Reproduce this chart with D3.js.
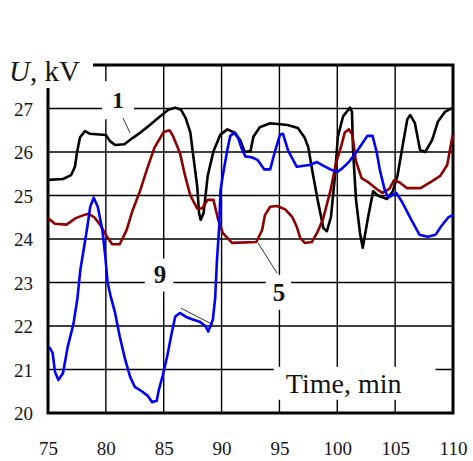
<!DOCTYPE html>
<html>
<head>
<meta charset="utf-8">
<script src="https://cdn.jsdelivr.net/npm/d3@7"></script>
<style>
  html, body { margin: 0; padding: 0; background: #fff; }
  svg { display: block; }
  text { font-family: "Liberation Serif", "Times New Roman", serif; fill: #151515; }
</style>
</head>
<body>
<script>
// Voltage traces U (kV) against time (min) for three feeders: 1, 5 and 9.
const times1 = [75.0, 76.3, 77.0, 77.33, 77.5, 77.77, 78.2, 78.6, 80.0, 80.36, 80.8, 81.6, 82.3, 82.95, 83.8, 84.7, 85.4, 86.0, 86.5, 86.9, 87.3, 87.55, 87.9, 88.05, 88.2, 88.45, 88.8, 89.3, 89.9, 90.5, 91.0, 91.6, 92.0, 92.5, 92.75, 93.3, 94.2, 95.7, 96.6, 97.2, 97.5, 97.85, 98.3, 98.8, 99.1, 99.45, 99.8, 100.05, 100.5, 101.1, 101.27, 101.36, 101.62, 101.96, 102.2, 102.66, 103.1, 103.5, 104.3, 104.8, 105.2, 105.65, 106.05, 106.3, 106.7, 107.15, 107.6, 108.2, 108.7, 109.3, 109.9];
const volts1 = [25.36, 25.38, 25.47, 25.66, 25.98, 26.34, 26.48, 26.42, 26.39, 26.25, 26.16, 26.18, 26.32, 26.44, 26.62, 26.82, 26.97, 27.02, 26.97, 26.78, 26.45, 25.92, 25.2, 24.6, 24.44, 24.6, 25.45, 26.02, 26.4, 26.52, 26.46, 26.28, 26.0, 26.02, 26.35, 26.57, 26.66, 26.62, 26.55, 26.32, 26.1, 25.55, 24.9, 24.25, 24.18, 24.5, 25.45, 26.35, 26.82, 27.02, 26.92, 26.05, 24.9, 24.14, 23.8, 24.5, 25.1, 25.0, 24.92, 25.1, 25.45, 26.15, 26.75, 26.85, 26.67, 26.05, 26.0, 26.28, 26.7, 26.92, 27.01];

const times5 = [75.0, 75.6, 76.6, 77.4, 78.2, 78.5, 79.0, 79.5, 80.1, 80.55, 81.2, 81.8, 82.3, 82.95, 83.55, 84.2, 85.0, 85.5, 85.8, 86.4, 86.85, 87.3, 87.9, 88.3, 88.8, 89.3, 89.7, 90.1, 90.9, 93.0, 93.5, 93.75, 94.2, 94.8, 95.5, 96.1, 96.5, 96.8, 97.2, 97.8, 98.25, 98.75, 99.4, 99.9, 100.3, 100.65, 101.0, 101.3, 101.6, 102.1, 102.7, 103.4, 103.9, 104.5, 104.9, 105.4, 106.0, 107.2, 108.2, 108.9, 109.5, 109.9, 110.0];
const volts5 = [24.48, 24.35, 24.33, 24.48, 24.56, 24.58, 24.5, 24.33, 24.05, 23.88, 23.88, 24.21, 24.65, 25.1, 25.6, 26.1, 26.46, 26.5, 26.37, 25.98, 25.45, 25.0, 24.7, 24.7, 24.9, 24.9, 24.45, 24.14, 23.91, 23.93, 24.2, 24.55, 24.74, 24.76, 24.68, 24.51, 24.28, 24.02, 23.91, 23.93, 24.14, 24.44, 25.1, 25.75, 26.1, 26.45, 26.52, 26.4, 25.8, 25.4, 25.3, 25.15, 25.06, 25.15, 25.35, 25.3, 25.17, 25.17, 25.33, 25.45, 25.7, 26.28, 26.4];

const times9 = [75.1, 75.4, 75.6, 75.9, 76.3, 76.7, 77.2, 77.55, 77.8, 78.05, 78.4, 78.65, 78.95, 79.3, 79.7, 79.95, 80.15, 80.4, 80.8, 81.2, 81.65, 82.1, 82.5, 83.1, 83.6, 84.0, 84.4, 84.55, 84.9, 85.3, 85.7, 86.0, 86.4, 87.0, 87.5, 88.1, 88.6, 88.85, 89.25, 89.45, 89.6, 89.8, 89.9, 90.1, 90.5, 90.75, 91.15, 91.4, 91.75, 92.05, 92.6, 93.1, 93.7, 94.2, 94.6, 95.05, 95.3, 95.75, 96.5, 97.6, 98.25, 98.7, 99.4, 100.0, 100.45, 101.0, 101.6, 102.2, 102.6, 103.05, 103.4, 103.7, 104.1, 104.4, 105.1, 105.6, 106.4, 107.1, 107.8, 108.5, 109.0, 109.6, 110.0];
const volts9 = [21.52, 21.38, 20.95, 20.76, 20.92, 21.52, 22.05, 22.65, 23.3, 23.7, 24.28, 24.74, 24.95, 24.74, 24.2, 23.6, 23.0, 22.7, 22.3, 21.76, 21.25, 20.83, 20.6, 20.5, 20.4, 20.25, 20.28, 20.5, 20.85, 21.3, 21.85, 22.22, 22.3, 22.2, 22.15, 22.1, 22.0, 21.87, 22.15, 22.65, 23.5, 24.3, 25.1, 25.45, 26.05, 26.37, 26.45, 26.35, 26.07, 25.9, 25.88, 25.82, 25.6, 25.6, 26.0, 26.4, 26.42, 26.03, 25.66, 25.7, 25.77, 25.7, 25.6, 25.54, 25.63, 25.77, 25.98, 26.21, 26.37, 26.37, 26.0, 25.56, 25.13, 24.95, 25.06, 24.85, 24.44, 24.1, 24.05, 24.1, 24.3, 24.5, 24.55];

const xTicks = [75, 80, 85, 90, 95, 100, 105, 110];
const yTicks = [20, 21, 22, 23, 24, 25, 26, 27];
const seriesNames = ["1", "5", "9"];
const seriesColors = ["#000000", "#8e0000", "#0000ff"];

const W = 473, H = 461;
const x = d3.scaleLinear().domain([75, 110]).range([48, 453]);
const y = d3.scaleLinear().domain([20, 28]).range([413, 65]);

const svg = d3.select("body").append("svg").attr("width", W).attr("height", H);

// grid
const grid = svg.append("g").attr("stroke", "#000").attr("stroke-width", 1.4);
grid.selectAll("line.v").data(xTicks.slice(1, -1)).join("line")
  .attr("x1", d => x(d)).attr("x2", d => x(d)).attr("y1", y(28)).attr("y2", y(20));
grid.selectAll("line.h").data(yTicks.slice(1)).join("line")
  .attr("x1", x(75)).attr("x2", x(110)).attr("y1", d => y(d)).attr("y2", d => y(d));

// frame
svg.append("rect")
  .attr("x", x(75)).attr("y", y(28))
  .attr("width", x(110) - x(75)).attr("height", y(20) - y(28))
  .attr("fill", "none").attr("stroke", "#000").attr("stroke-width", 3);

// axes (labels only; the frame and grid draw the lines)
const xAxis = d3.axisBottom(x).tickValues(xTicks).tickSize(0).tickPadding(0).tickFormat(d3.format("d"));
const yAxis = d3.axisLeft(y).tickValues(yTicks).tickSize(0).tickPadding(0).tickFormat(d3.format("d"));
const gx = svg.append("g").attr("transform", "translate(0,442)").call(xAxis);
const gy = svg.append("g").attr("transform", "translate(33,0)").call(yAxis);
[gx, gy].forEach(g => {
  g.select(".domain").remove();
  g.selectAll("text")
    .style("font-family", '"Liberation Serif", serif')
    .style("font-size", "19px").attr("fill", "#151515");
});
gy.selectAll("text").attr("dy", "0.35em");
gx.selectAll("text").attr("dy", "0.7em");

// white patches behind captions, cut out of grid and frame
const boxes = svg.append("g");

const lineGen = d3.line().x(d => x(d[0])).y(d => y(d[1]));
const seriesData = [
  d3.zip(times1, volts1),
  d3.zip(times5, volts5),
  d3.zip(times9, volts9)
];

// captions
function caption(txt, cx, cy, size, weight, pad) {
  const t = svg.append("text")
    .attr("x", cx).attr("y", cy)
    .attr("text-anchor", "middle").attr("dy", "0.35em")
    .style("font-size", size + "px").style("font-weight", weight)
    .text(txt);
  const b = t.node().getBBox();
  boxes.append("rect")
    .attr("x", b.x - pad[0]).attr("y", b.y - pad[1])
    .attr("width", b.width + pad[0] + pad[2]).attr("height", b.height + pad[1] + pad[3])
    .attr("fill", "#fff");
  return t;
}

// axis titles
const ut = svg.append("text").attr("x", 9).attr("y", 81).style("font-size", "29px");
ut.append("tspan").style("font-style", "italic").text("U");
ut.append("tspan").text(", kV");
boxes.append("rect").attr("x", 0).attr("y", 0).attr("width", 93).attr("height", 88).attr("fill", "#fff");

caption("Time, min", x(100.55), y(20.69), 28, "normal", [12, 1, 34, 1]);

// series names with leaders
caption(seriesNames[0], x(81.05), y(27.2), 24, "bold", [10, 6, 10, 6]);
caption(seriesNames[1], x(94.96), y(22.78), 25, "bold", [7, 4, 6, 4]);
caption(seriesNames[2], x(84.68), y(23.2), 25, "bold", [9, 2, 7, 4]);

const leaders = [
  [[81.48, 26.78], [82.09, 26.44]],
  [[93.15, 23.91], [94.79, 23.22]],
  [[86.49, 22.41], [89.26, 22.03]]
];
svg.append("g").selectAll("line").data(leaders).join("line")
  .attr("x1", d => x(d[0][0])).attr("y1", d => y(d[0][1]))
  .attr("x2", d => x(d[1][0])).attr("y2", d => y(d[1][1]))
  .attr("stroke", "#333").attr("stroke-width", 1);

// traces
svg.append("g").selectAll("path").data(seriesData).join("path")
  .attr("d", lineGen)
  .attr("fill", "none")
  .attr("stroke", (d, i) => seriesColors[i])
  .attr("stroke-width", 2.6)
  .attr("stroke-linejoin", "round");

// keep captions above everything
svg.selectAll("text").raise();
</script>
</body>
</html>
